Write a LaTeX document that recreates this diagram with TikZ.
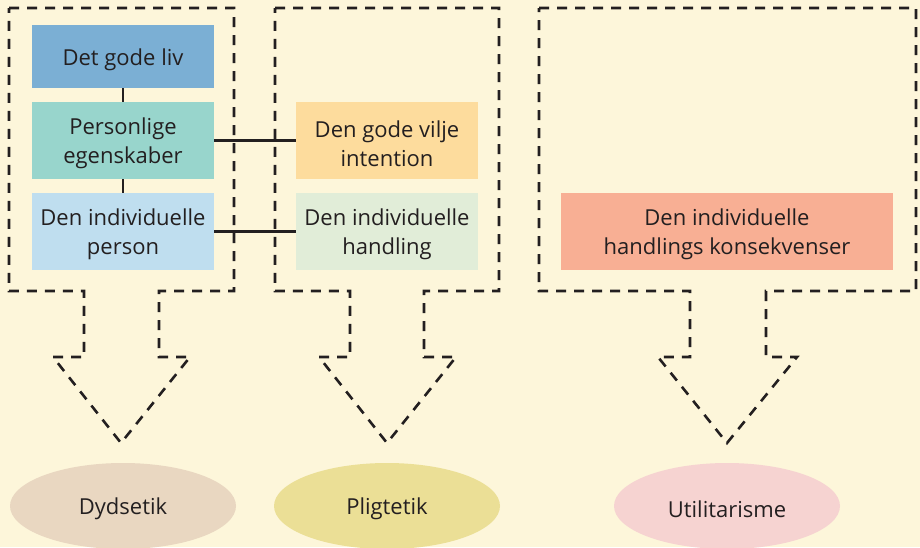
\documentclass[tikz,border=0pt]{standalone}
\usepackage{fontspec}
\setmainfont{Open Sans}
\usetikzlibrary{shapes.geometric}

\definecolor{cream}{HTML}{FDF6DA}
\definecolor{ink}{HTML}{231F20}
\definecolor{livblue}{HTML}{7BAFD4}
\definecolor{egenskgreen}{HTML}{98D5CC}
\definecolor{personblue}{HTML}{BFDEEF}
\definecolor{viljeorange}{HTML}{FDDC9D}
\definecolor{handlinggreen}{HTML}{E1EDD8}
\definecolor{konsekvred}{HTML}{F8AF94}
\definecolor{dydbeige}{HTML}{E9D7C1}
\definecolor{pligtyellow}{HTML}{EBDF96}
\definecolor{utilpink}{HTML}{F6D3D1}

\begin{document}
\begin{tikzpicture}[x=1pt,y=-1pt,
  boxtext/.style={align=center, text=ink, inner sep=0pt, yshift=-3pt,
    font=\fontsize{22}{29}\selectfont},
  box/.style={rectangle, minimum width=182pt, minimum height=77pt, inner sep=0pt},
  ethic/.style={ellipse, minimum width=226pt, minimum height=86pt, inner sep=0pt},
  link/.style={draw=ink, line width=2.4pt},
  outline/.style={draw=ink, line width=2.6pt, dash pattern=on 10pt off 8pt, line join=miter}]

  \fill[cream] (0,0) rectangle (920,547);
  \useasboundingbox (0,0) rectangle (920,547);

  % dashed frames with arrows
  \foreach \l/\r/\sl/\sr/\wl/\wr/\tip in {9/234/84/159/53/190/121,
      275/499/350/424/319/456/387, 539/916/690/766/658/797/727} {
    \draw[outline] (\l,8) -- (\r,8) -- (\r,291) -- (\sr,291) -- (\sr,357) -- (\wr,357)
      -- (\tip,443) -- (\wl,357) -- (\sl,357) -- (\sl,291) -- (\l,291) -- cycle;
  }

  % boxes
  \node[box, fill=livblue, minimum height=63pt,
    label={[boxtext]center:Det gode liv}] (liv) at (123,56.5) {};
  \node[box, fill=egenskgreen,
    label={[boxtext]center:{Personlige\\egenskaber}}] (egensk) at (123,140.5) {};
  \node[box, fill=personblue,
    label={[boxtext]center:{Den individuelle\\person}}] (person) at (123,231.5) {};
  \node[box, fill=viljeorange,
    label={[boxtext]center:{Den gode vilje\\intention}}] (vilje) at (387,140.5) {};
  \node[box, fill=handlinggreen,
    label={[boxtext]center:{Den individuelle\\handling}}] (handling) at (387,231.5) {};
  \node[box, fill=konsekvred, minimum width=332pt,
    label={[boxtext]center:{Den individuelle\\handlings konsekvenser}}] (konsekv) at (727,231.5) {};

  \draw[link] (liv) -- (egensk);
  \draw[link] (egensk) -- (person);
  \draw[link] (egensk) -- (vilje);
  \draw[link] (person) -- (handling);

  % ethics
  \node[ethic, fill=dydbeige, label={[boxtext]center:Dydsetik}] (dyd) at (123,506) {};
  \node[ethic, fill=pligtyellow, label={[boxtext]center:Pligtetik}] (pligt) at (387,506) {};
  \node[ethic, fill=utilpink, label={[boxtext]center:Utilitarisme}] (util) at (727,506) {};
\end{tikzpicture}
\end{document}
